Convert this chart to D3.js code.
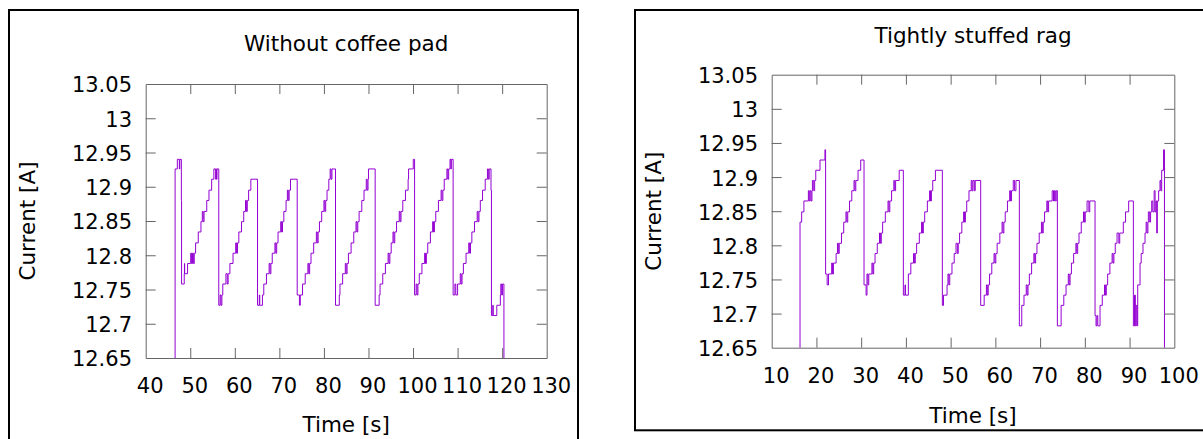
<!DOCTYPE html>
<meta charset="utf-8">
<title>Current vs time</title>
<style>
  body { margin: 0; background: #fff; }
  svg { display: block; font-family: "DejaVu Sans", sans-serif; }
  .frame { fill: none; stroke: #000; stroke-width: 2px; }
  .trace { fill: none; stroke: #9400d3; stroke-width: 1px; }
  .axis path, .axis line { stroke: #666; }
  .axis text { font-size: 21px; fill: #000; font-family: "DejaVu Sans", sans-serif; }
</style>
<body>
<script src="https://d3js.org/d3.v7.min.js"></script>
<script>
// tick values
var currentTicks = [12.65, 12.7, 12.75, 12.8, 12.85, 12.9, 12.95, 13, 13.05];
var padTimeTicks = [40, 50, 60, 70, 80, 90, 100, 110, 120, 130];
var ragTimeTicks = [10, 20, 30, 40, 50, 60, 70, 80, 90, 100];

// [time s, current A] (step samples)
var padPoints = [
  [46.50,12.600],[46.60,12.926],[47.10,12.940],[47.55,12.926],[47.65,12.940],[48.00,12.880],[48.05,12.758],[48.65,12.773],[48.70,12.788],[48.75,12.773],[49.40,12.788],[50.10,12.803],[50.30,12.788],[50.50,12.803],[50.70,12.788],[50.90,12.803],[51.20,12.818],[51.80,12.834],[52.40,12.849],[52.70,12.864],[52.90,12.849],[53.10,12.864],[53.70,12.880],[54.20,12.895],[54.80,12.911],[55.30,12.926],[55.70,12.911],[55.80,12.926],[55.90,12.911],[56.00,12.926],[56.40,12.727],
  [56.70,12.742],[56.90,12.727],[57.10,12.742],[57.30,12.758],[58.00,12.773],[58.30,12.758],[58.50,12.773],[58.90,12.788],[59.60,12.803],[60.20,12.818],[60.40,12.803],[60.60,12.818],[60.90,12.834],[61.50,12.849],[62.00,12.864],[62.40,12.880],[62.60,12.864],[62.80,12.880],[63.10,12.895],[63.60,12.911],[65.10,12.727],
  [65.50,12.742],[65.60,12.727],[66.20,12.742],[66.50,12.758],[67.10,12.773],[67.70,12.788],[67.90,12.773],[68.10,12.788],[68.40,12.803],[69.00,12.818],[69.20,12.803],[69.40,12.818],[69.70,12.834],[70.30,12.849],[70.50,12.834],[70.70,12.849],[71.00,12.864],[71.50,12.880],[71.80,12.895],[72.00,12.880],[72.20,12.895],[72.50,12.911],[74.00,12.742],
  [74.50,12.727],[74.70,12.742],[75.20,12.758],[75.80,12.773],[76.40,12.788],[76.60,12.773],[76.80,12.788],[77.10,12.803],[77.70,12.818],[78.30,12.834],[78.50,12.818],[78.70,12.834],[79.00,12.849],[79.50,12.864],[80.00,12.880],[80.20,12.864],[80.40,12.880],[80.70,12.895],[81.10,12.911],[81.40,12.926],[81.60,12.911],[81.80,12.926],[82.60,12.727],
  [83.45,12.742],[83.60,12.758],[84.20,12.773],[84.80,12.788],[85.00,12.773],[85.20,12.788],[85.50,12.803],[86.10,12.818],[86.70,12.834],[87.20,12.849],[87.40,12.834],[87.60,12.849],[87.90,12.864],[88.50,12.880],[89.00,12.895],[89.50,12.911],[89.70,12.895],[89.90,12.911],[90.00,12.926],[91.50,12.727],
  [92.40,12.742],[92.60,12.758],[93.20,12.773],[93.80,12.788],[94.40,12.803],[94.60,12.788],[94.80,12.803],[95.10,12.818],[95.50,12.834],[95.70,12.818],[95.90,12.834],[96.30,12.849],[96.90,12.864],[97.10,12.849],[97.30,12.864],[97.70,12.880],[98.30,12.895],[98.90,12.911],[99.00,12.926],[100.05,12.940],[100.35,12.742],
  [100.70,12.758],[100.90,12.742],[101.10,12.758],[101.40,12.773],[102.00,12.788],[102.60,12.803],[102.80,12.788],[103.00,12.803],[103.30,12.818],[103.90,12.834],[104.40,12.849],[104.60,12.834],[104.80,12.849],[105.10,12.864],[105.70,12.880],[106.30,12.895],[106.50,12.880],[106.70,12.895],[107.00,12.911],[107.60,12.926],[107.80,12.911],[108.00,12.926],[108.30,12.940],[108.50,12.926],[108.60,12.940],[109.00,12.742],
  [109.40,12.758],[109.60,12.742],[110.00,12.758],[110.60,12.773],[110.80,12.758],[111.00,12.773],[111.30,12.788],[111.90,12.803],[112.50,12.818],[112.70,12.803],[112.90,12.818],[113.20,12.834],[113.80,12.849],[114.40,12.864],[114.60,12.849],[114.80,12.864],[115.10,12.880],[115.60,12.895],[116.20,12.911],[116.70,12.926],[116.90,12.911],[117.10,12.926],[117.50,12.895],[117.60,12.712],[117.90,12.727],[118.00,12.712],[118.80,12.727],[119.60,12.742],[119.70,12.758],[119.90,12.742],[120.10,12.758],[120.40,12.600]
];

var ragPoints = [
  [16.25,12.600],[16.33,12.834],[16.70,12.849],[17.20,12.865],[18.20,12.880],[18.40,12.865],[18.60,12.880],[18.80,12.865],[19.00,12.880],[19.10,12.895],[19.40,12.880],[19.60,12.895],[19.85,12.910],[20.80,12.925],[21.90,12.940],[22.05,12.758],[22.40,12.742],[22.70,12.758],
  [23.40,12.774],[23.60,12.758],[23.80,12.774],[24.40,12.788],[24.70,12.803],[24.90,12.788],[25.10,12.803],[25.60,12.818],[26.10,12.834],[26.60,12.849],[26.80,12.834],[27.00,12.849],[27.40,12.865],[27.90,12.880],[28.40,12.895],[28.60,12.880],[28.80,12.895],[29.30,12.910],[29.90,12.925],[30.64,12.742],
  [31.10,12.727],[31.30,12.758],[31.50,12.742],[31.70,12.758],[32.40,12.774],[32.60,12.758],[32.80,12.774],[33.10,12.788],[33.60,12.803],[34.10,12.818],[34.30,12.803],[34.50,12.818],[34.80,12.834],[35.40,12.849],[36.00,12.865],[36.20,12.849],[36.40,12.865],[36.80,12.880],[37.30,12.895],[37.50,12.880],[37.70,12.895],[38.50,12.910],[39.43,12.727],
  [39.80,12.742],[39.90,12.727],[40.55,12.758],[41.10,12.774],[41.70,12.788],[41.90,12.774],[42.10,12.788],[42.40,12.803],[43.00,12.818],[43.50,12.834],[43.70,12.818],[43.90,12.834],[44.20,12.849],[44.80,12.865],[45.30,12.880],[45.50,12.865],[45.70,12.880],[46.00,12.895],[46.60,12.910],[48.15,12.712],
  [48.40,12.727],[49.20,12.742],[49.40,12.758],[49.60,12.742],[49.80,12.758],[50.30,12.774],[50.80,12.788],[51.20,12.803],[51.50,12.788],[51.70,12.803],[52.00,12.818],[52.50,12.834],[52.90,12.849],[53.10,12.834],[53.30,12.849],[53.60,12.865],[54.10,12.880],[54.60,12.895],[54.80,12.880],[55.00,12.895],[55.30,12.880],[55.50,12.895],[56.72,12.712],
  [57.50,12.727],[58.00,12.742],[58.20,12.727],[58.40,12.742],[58.70,12.758],[59.20,12.774],[59.70,12.788],[59.90,12.774],[60.10,12.788],[60.40,12.803],[61.00,12.818],[61.50,12.834],[61.70,12.818],[61.90,12.834],[62.20,12.849],[62.70,12.865],[63.20,12.880],[63.40,12.865],[63.60,12.880],[64.00,12.895],[64.30,12.880],[64.60,12.895],[65.36,12.682],
  [65.90,12.712],[66.40,12.727],[66.90,12.742],[67.10,12.727],[67.30,12.742],[67.60,12.758],[68.10,12.774],[68.60,12.788],[68.80,12.774],[69.00,12.788],[69.30,12.803],[69.80,12.818],[70.30,12.834],[70.50,12.818],[70.70,12.834],[71.00,12.849],[71.50,12.865],[71.70,12.849],[71.90,12.865],[72.70,12.880],[73.00,12.865],[73.20,12.880],[73.40,12.865],[73.60,12.880],[73.86,12.682],
  [74.70,12.712],[75.30,12.727],[75.80,12.742],[76.30,12.758],[76.50,12.742],[76.70,12.758],[77.00,12.774],[77.50,12.788],[78.00,12.803],[78.20,12.788],[78.40,12.803],[78.70,12.818],[79.20,12.834],[79.70,12.849],[79.90,12.834],[80.10,12.849],[80.50,12.865],[80.90,12.849],[81.10,12.865],[82.28,12.697],
  [82.50,12.682],[82.70,12.697],[82.90,12.682],[83.40,12.712],[83.90,12.727],[84.40,12.742],[84.60,12.727],[84.80,12.742],[85.10,12.758],[85.60,12.774],[86.10,12.788],[86.30,12.774],[86.50,12.788],[86.80,12.803],[87.20,12.818],[87.60,12.803],[87.80,12.818],[88.60,12.834],[89.10,12.849],[89.80,12.865],[90.85,12.682],
  [91.10,12.727],[91.30,12.682],[91.50,12.712],[91.70,12.682],[91.82,12.742],[92.34,12.774],[92.60,12.788],[93.00,12.803],[93.46,12.818],[93.70,12.834],[93.90,12.818],[94.10,12.834],[94.20,12.849],[94.50,12.834],[94.70,12.849],[94.95,12.865],[95.20,12.849],[95.50,12.880],[95.70,12.849],[95.90,12.865],[96.07,12.818],[96.20,12.865],[96.50,12.880],[96.80,12.895],[97.00,12.880],[97.18,12.910],[97.60,12.940],[97.80,12.600]
];

var panels = [
  {id: "pad", title: "Without coffee pad", points: padPoints, xTicks: padTimeTicks,
   box: {x: 9, y: 10, w: 569, h: 460},
   plot: {l: 145.7, r: 546.7, t: 84, b: 358},
   titleY: 51, xTitleY: 432, yTitleX: 35},
  {id: "rag", title: "Tightly stuffed rag", points: ragPoints, xTicks: ragTimeTicks,
   box: {x: 635, y: 10, w: 600, h: 420.3},
   plot: {l: 771.7, r: 1174.3, t: 74.7, b: 347.7},
   titleY: 42.5, xTitleY: 422.5, yTitleX: 661}
];

var svg = d3.select("body").append("svg")
    .attr("width", 1203)
    .attr("height", 439);

var fmt = function(d) { return String(+d.toFixed(2)); };

panels.forEach(function(p) {
  var g = svg.append("g");
  var x = d3.scaleLinear()
      .domain([p.xTicks[0], p.xTicks[p.xTicks.length - 1]])
      .range([p.plot.l, p.plot.r]);
  var y = d3.scaleLinear()
      .domain([currentTicks[0], currentTicks[currentTicks.length - 1]])
      .range([p.plot.b, p.plot.t]);

  // outer border
  g.append("rect").attr("class", "frame")
      .attr("x", p.box.x).attr("y", p.box.y)
      .attr("width", p.box.w).attr("height", p.box.h);

  // clip for the trace
  g.append("clipPath").attr("id", "clip-" + p.id)
    .append("rect")
      .attr("x", p.plot.l).attr("y", p.plot.t)
      .attr("width", p.plot.r - p.plot.l).attr("height", p.plot.b - p.plot.t);

  var line = d3.line()
      .x(function(d) { return x(d[0]); })
      .y(function(d) { return y(d[1]); })
      .curve(d3.curveStepAfter);

  g.append("path")
      .datum(p.points)
      .attr("class", "trace")
      .attr("clip-path", "url(#clip-" + p.id + ")")
      .attr("d", line);

  var inner = function(v, arr) { return v !== arr[0] && v !== arr[arr.length - 1]; };

  // axes, ticks pointing inward (gnuplot style)
  var xb = g.append("g").attr("class", "axis")
      .attr("transform", "translate(0," + p.plot.b + ")")
      .call(d3.axisBottom(x).tickValues(p.xTicks).tickSizeInner(-10).tickSizeOuter(0).tickPadding(20));
  xb.selectAll(".tick text").attr("x", 4);
  xb.selectAll(".tick line").filter(function(d) { return !inner(d, p.xTicks); }).remove();

  var xt = g.append("g").attr("class", "axis")
      .attr("transform", "translate(0," + p.plot.t + ")")
      .call(d3.axisTop(x).tickValues(p.xTicks.filter(function(d) { return inner(d, p.xTicks); }))
        .tickSizeInner(-10).tickSizeOuter(0).tickFormat(""));

  var yl = g.append("g").attr("class", "axis")
      .attr("transform", "translate(" + p.plot.l + ",0)")
      .call(d3.axisLeft(y).tickValues(currentTicks).tickSizeInner(-10).tickSizeOuter(0).tickPadding(13.7).tickFormat(fmt));
  yl.selectAll(".tick text").attr("dy", "0.38em");
  yl.selectAll(".tick line").filter(function(d) { return !inner(d, currentTicks); }).remove();

  g.append("g").attr("class", "axis")
      .attr("transform", "translate(" + p.plot.r + ",0)")
      .call(d3.axisRight(y).tickValues(currentTicks.filter(function(d) { return inner(d, currentTicks); }))
        .tickSizeInner(-10).tickSizeOuter(0).tickFormat(""));

  svg.selectAll(".axis .domain").attr("stroke", "#666");

  var cx = (p.plot.l + p.plot.r) / 2,
      cy = (p.plot.t + p.plot.b) / 2;

  g.append("text")
      .attr("x", cx).attr("y", p.titleY)
      .attr("text-anchor", "middle")
      .style("font-size", "21.5px")
      .text(p.title);

  g.append("text")
      .attr("x", cx).attr("y", p.xTitleY)
      .attr("text-anchor", "middle")
      .style("font-size", "21.5px")
      .text("Time [s]");

  g.append("text")
      .attr("transform", "translate(" + p.yTitleX + "," + cy + ") rotate(-90)")
      .attr("text-anchor", "middle")
      .style("font-size", "21.5px")
      .text("Current [A]");
});
</script>
